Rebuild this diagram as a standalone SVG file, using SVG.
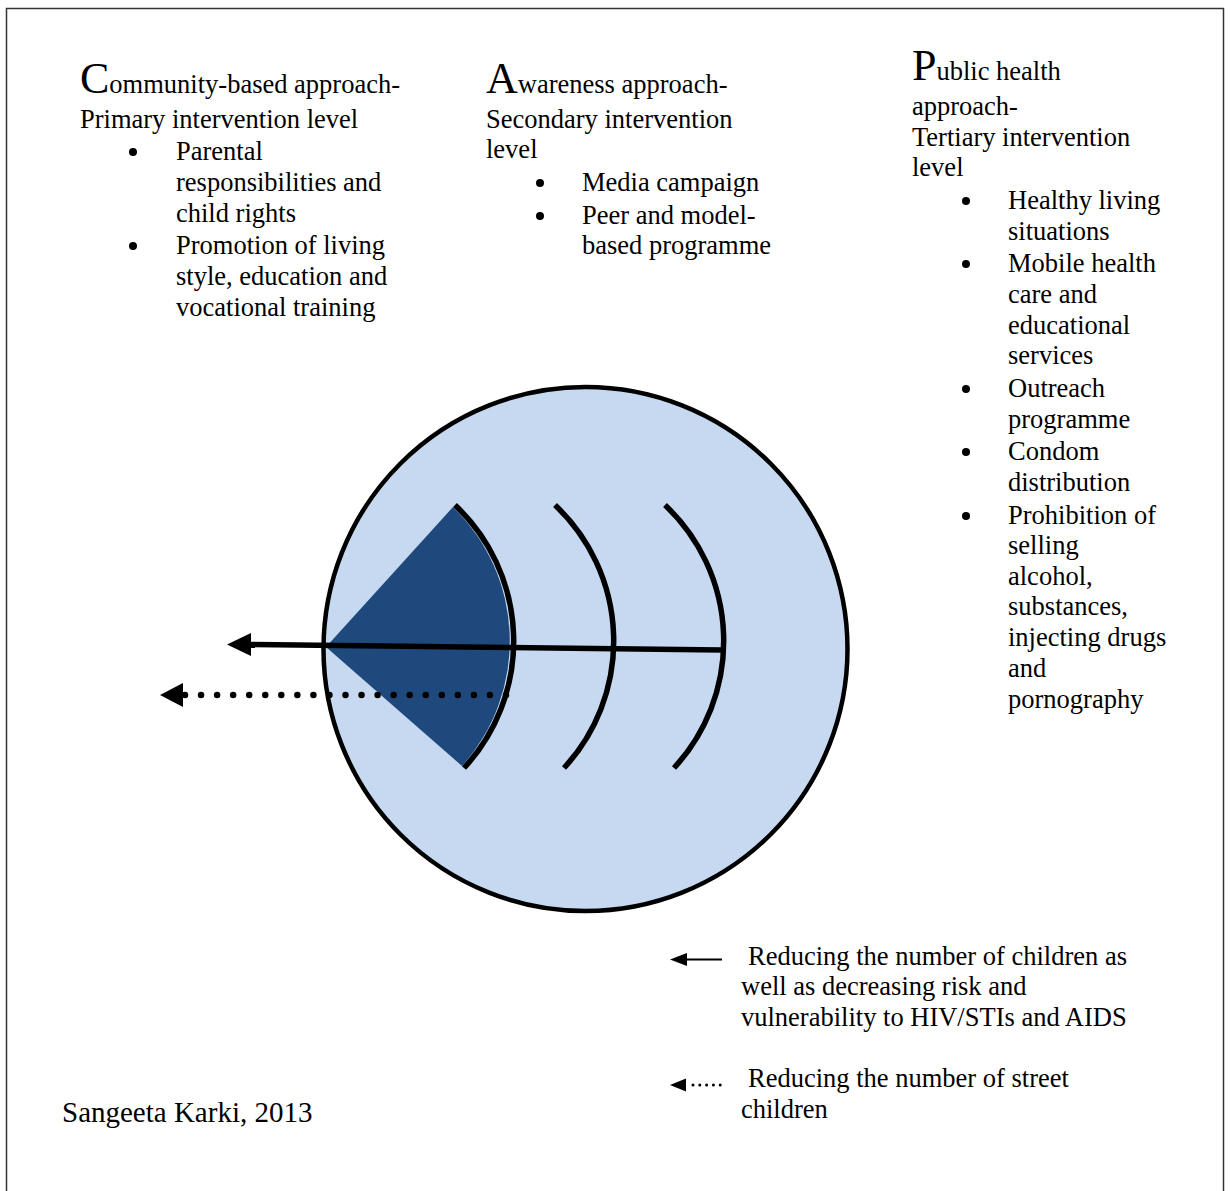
<svg xmlns="http://www.w3.org/2000/svg" width="1230" height="1191" viewBox="0 0 1230 1191">
<defs>
<style>
text { font-family: "Liberation Serif", "Times New Roman", serif; font-size: 26.5px; fill: #000; }
.cap { font-size: 44px; }
.author { font-size: 29px; }
.arc { fill: none; stroke: #000; stroke-width: 5.5; }
.bullet { fill: #000; }
</style>
</defs>
<rect x="6.5" y="8.5" width="1217" height="1200" fill="#fff" stroke="#333" stroke-width="1.5"/>
<g id="circle-node">
<circle cx="585.5" cy="649" r="262" fill="#c6d9f1" stroke="#000" stroke-width="4.5"/>
<path d="M 326 647 L 453 507 A 187 187 0 0 1 462 766 Z" fill="#1f497d"/>
<path class="arc" d="M 455 505 A 187 187 0 0 1 464 768"/>
<path class="arc" d="M 555 505 A 187 187 0 0 1 564 768"/>
<path class="arc" d="M 665 505 A 187 187 0 0 1 674 768"/>
</g>
<g id="connectors">
<line x1="722" y1="650" x2="248" y2="644.5" stroke="#000" stroke-width="5.5"/>
<polygon points="227,644.5 251,633 251,656" fill="#000"/>
<line x1="185" y1="695" x2="507" y2="695" stroke="#000" stroke-width="6.5" stroke-linecap="round" stroke-dasharray="0 16.05"/>
<polygon points="160,695 183,683 183,707" fill="#000"/>
<line x1="685" y1="959.5" x2="722" y2="959.5" stroke="#000" stroke-width="2"/>
<polygon points="670,959.5 687,953 687,966" fill="#000"/>
<line x1="693" y1="1085" x2="721" y2="1085" stroke="#000" stroke-width="3" stroke-linecap="round" stroke-dasharray="0 6.8"/>
<polygon points="670,1085 686,1078.5 686,1091.5" fill="#000"/>
</g>
<g id="community">
<text x="80" y="93"><tspan class="cap">C</tspan>ommunity-based approach-</text>
<text x="80" y="128">Primary intervention level</text>
<circle class="bullet" cx="133" cy="152" r="4"/>
<text x="176" y="160">Parental</text>
<text x="176" y="191">responsibilities and</text>
<text x="176" y="222">child rights</text>
<circle class="bullet" cx="133" cy="246" r="4"/>
<text x="176" y="254">Promotion of living</text>
<text x="176" y="285">style, education and</text>
<text x="176" y="316">vocational training</text>
</g>
<g id="awareness">
<text x="486" y="93"><tspan class="cap">A</tspan>wareness approach-</text>
<text x="486" y="128">Secondary intervention</text>
<text x="486" y="158">level</text>
<circle class="bullet" cx="540" cy="183" r="4"/>
<text x="582" y="191">Media campaign</text>
<circle class="bullet" cx="540" cy="216" r="4"/>
<text x="582" y="224">Peer and model-</text>
<text x="582" y="254">based programme</text>
</g>
<g id="public-health">
<text x="912" y="80"><tspan class="cap">P</tspan>ublic health</text>
<text x="912" y="115">approach-</text>
<text x="912" y="146">Tertiary intervention</text>
<text x="912" y="176">level</text>
<circle class="bullet" cx="966" cy="201" r="4"/>
<text x="1008" y="209">Healthy living</text>
<text x="1008" y="240">situations</text>
<circle class="bullet" cx="966" cy="264" r="4"/>
<text x="1008" y="272">Mobile health</text>
<text x="1008" y="303">care and</text>
<text x="1008" y="334">educational</text>
<text x="1008" y="364">services</text>
<circle class="bullet" cx="966" cy="389" r="4"/>
<text x="1008" y="397">Outreach</text>
<text x="1008" y="428">programme</text>
<circle class="bullet" cx="966" cy="452" r="4"/>
<text x="1008" y="460">Condom</text>
<text x="1008" y="491">distribution</text>
<circle class="bullet" cx="966" cy="516" r="4"/>
<text x="1008" y="524">Prohibition of</text>
<text x="1008" y="554">selling</text>
<text x="1008" y="585">alcohol,</text>
<text x="1008" y="615">substances,</text>
<text x="1008" y="646">injecting drugs</text>
<text x="1008" y="677">and</text>
<text x="1008" y="708">pornography</text>
</g>
<g id="legend">
<text x="748" y="965">Reducing the number of children as</text>
<text x="741" y="995">well as decreasing risk and</text>
<text x="741" y="1026">vulnerability to HIV/STIs and AIDS</text>
<text x="748" y="1087">Reducing the number of street</text>
<text x="741" y="1118">children</text>
</g>
<g id="credit">
<text class="author" x="62" y="1122">Sangeeta Karki, 2013</text>
</g>
</svg>
